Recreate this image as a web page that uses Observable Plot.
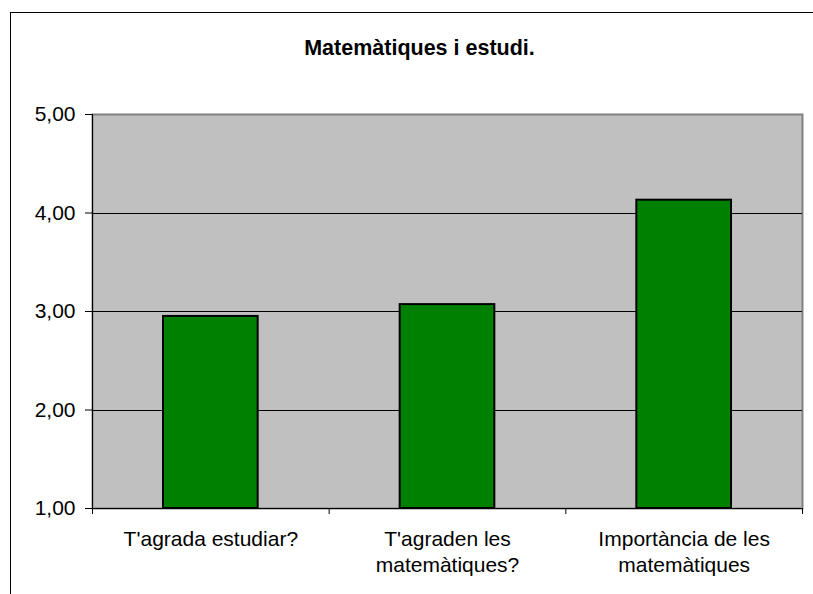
<!DOCTYPE html>
<html>
<head>
<meta charset="utf-8">
<script src="https://cdn.jsdelivr.net/npm/d3@7"></script>
<script src="https://cdn.jsdelivr.net/npm/@observablehq/plot@0.6"></script>
<style>
  html, body { margin: 0; padding: 0; background: #fff; overflow: hidden; width: 813px; height: 594px; }
  #chart { position: absolute; left: 0; top: 0; }
  #border { position: absolute; left: 10px; top: 12px; width: 900px; height: 700px; border: 1.5px solid #000; pointer-events: none; }
</style>
</head>
<body>
<div id="chart"></div>
<div id="border"></div>
<script>
const title = "Matemàtiques i estudi.";
const categories = ["T'agrada estudiar?", "T'agraden les\nmatemàtiques?", "Importància de les\nmatemàtiques"];
const values = [2.95, 3.07, 4.13];
const yTicks = [1, 2, 3, 4, 5];
const gridValues = [2, 3, 4];

const FONT = "'Liberation Sans', Arial, sans-serif";
const data = categories.map((c, i) => ({ i, category: c, value: values[i] }));
const barHalf = 0.2;

const plot = Plot.plot({
  width: 813,
  height: 594,
  marginLeft: 92,
  marginRight: 11,
  marginTop: 114,
  marginBottom: 86,
  style: { fontFamily: FONT, background: "transparent", color: "#000" },
  x: { type: "linear", domain: [0, categories.length], axis: null },
  y: { domain: [1, 5], axis: null },
  marks: [
    Plot.frame({ fill: "#C0C0C0", stroke: "#808080", strokeWidth: 2 }),
    Plot.ruleY(gridValues, { stroke: "#000", strokeWidth: 1, shapeRendering: "crispEdges" }),
    Plot.rectY(data, {
      x1: d => d.i + 0.5 - barHalf,
      x2: d => d.i + 0.5 + barHalf,
      y1: 1,
      y2: "value",
      fill: "#008000",
      stroke: "#000",
      strokeWidth: 2
    }),
    Plot.ruleX([0], { stroke: "#000", strokeWidth: 1, shapeRendering: "crispEdges" }),
    Plot.ruleY([1], { stroke: "#000", strokeWidth: 1, shapeRendering: "crispEdges" }),
    Plot.axisY({
      ticks: yTicks,
      tickSize: 7,
      tickPadding: 10,
      tickFormat: d => d.toFixed(2).replace(".", ","),
      fontSize: 21,
      label: null,
      stroke: "#000"
    }),
    Plot.axisX({
      ticks: d3.range(categories.length + 1),
      tickSize: 6,
      tickFormat: () => "",
      label: null,
      stroke: "#000"
    }),
    Plot.axisX({
      ticks: categories.map((c, i) => i + 0.5),
      tickSize: 0,
      tickPadding: 19,
      tickFormat: d => categories[Math.floor(d)],
      fontSize: 21,
      lineHeight: 1.25,
      label: null
    }),
    Plot.text([title], {
      frameAnchor: "top",
      dx: -28,
      dy: -75,
      fontSize: 21.5,
      fontWeight: "bold",
      fill: "#000"
    })
  ]
});
document.getElementById("chart").appendChild(plot);
</script>
</body>
</html>
